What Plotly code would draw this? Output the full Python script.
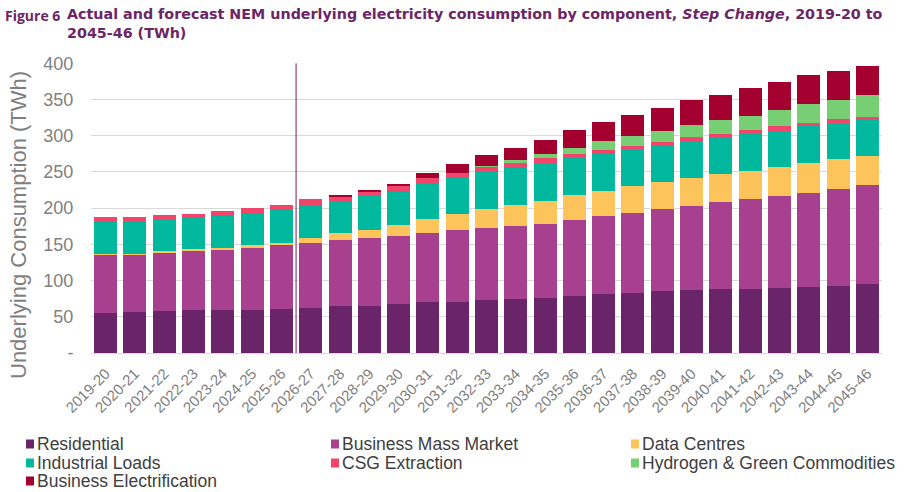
import plotly.graph_objects as go

years = ['2019-20', '2020-21', '2021-22', '2022-23', '2023-24', '2024-25', '2025-26',
         '2026-27', '2027-28', '2028-29', '2029-30', '2030-31', '2031-32', '2032-33',
         '2033-34', '2034-35', '2035-36', '2036-37', '2037-38', '2038-39', '2039-40',
         '2040-41', '2041-42', '2042-43', '2043-44', '2044-45', '2045-46']

residential = [55, 56, 57.5, 59, 59, 60, 61, 62, 64.5, 65.5, 67, 70, 71, 73.5,
               74.5, 76.5, 79, 81.5, 83, 85.5, 86.5, 88, 89, 90, 91.5, 93, 95.5]
business_mass = [81, 80, 81.5, 81.5, 83.5, 85.5, 87.5, 89.5, 91, 93, 95, 96, 98.5, 99,
                 101.5, 102, 105, 107.5, 110, 113.5, 117, 120.5, 123.5, 127.5, 130, 133.5, 136]
data_centres = [1, 1, 2, 3, 3, 3, 4, 8, 10, 12, 15, 18.5, 22, 27,
                29, 32, 34, 34.5, 37, 37, 38.5, 39, 39.5, 39.5, 41, 41, 41]
industrial = [44.5, 44.5, 43, 42.5, 44, 44.5, 45, 43.5, 44, 46, 47, 50, 50, 51.5,
              50.5, 51.5, 51, 51.5, 50, 49.5, 50.5, 50.5, 50.5, 49.5, 50.5, 49.5, 50.5]
csg = [7, 6, 7, 6.5, 7, 7.5, 6.5, 9, 7, 6.5, 7, 7, 7.5, 6,
       7.5, 7, 6.5, 6, 6, 6.5, 6.5, 5, 5.5, 6.5, 4, 6, 3.5]
hydrogen = [0, 0, 0, 0, 0, 0, 0, 0, 0, 0, 0, 0, 0, 1.5,
            3, 5.5, 8, 12, 14, 15, 16, 19, 20, 23, 27, 27, 29.5]
business_elec = [0, 0, 0, 0, 0, 0, 0, 0, 0.5, 2.5, 3, 7.5, 12, 15,
                 17.5, 20, 25, 25.5, 28.5, 31, 34, 34.5, 37.5, 38.5, 39.5, 40, 41]

series = [
    ('Residential', residential, '#69246A'),
    ('Business Mass Market', business_mass, '#A7418F'),
    ('Data Centres', data_centres, '#FDC45C'),
    ('Industrial Loads', industrial, '#00B89D'),
    ('CSG Extraction', csg, '#F1456C'),
    ('Hydrogen & Green Commodities', hydrogen, '#78CF73'),
    ('Business Electrification', business_elec, '#A4002F'),
]

y_ticks = [0, 50, 100, 150, 200, 250, 300, 350, 400]
y_ticktext = ['-', '50', '100', '150', '200', '250', '300', '350', '400']

grey = '#7F7F7F'
purple = '#6C2566'

# plot area in pixels
L, R, T, B = 91, 882, 63, 353
W, H = R - L, B - T


def px(x):
    return (x - L) / W


def py(y):
    return (B - y) / H


fig = go.Figure()
for name, vals, col in series:
    fig.add_trace(go.Bar(x=years, y=vals, name=name, marker_color=col, marker_line_width=0))

fig.update_layout(
    barmode='stack',
    bargap=0.215,
    width=909, height=492,
    margin=dict(l=L, r=909 - R, t=T, b=492 - B, autoexpand=False),
    paper_bgcolor='white', plot_bgcolor='white',
    font=dict(family='Liberation Sans, Arial, sans-serif', color=grey),
    showlegend=False,
    xaxis=dict(tickangle=-45, tickfont=dict(size=15, color=grey), showgrid=False,
               showline=True, linecolor='#D9D9D9', linewidth=1, ticks='outside', ticklen=5,
               tickcolor='rgba(0,0,0,0)', automargin=False),
    yaxis=dict(range=[0, 400.5], tickvals=y_ticks, ticktext=y_ticktext,
               tickfont=dict(size=18, color=grey), gridcolor='#D9D9D9', gridwidth=1,
               zeroline=False, showline=False, ticks='outside', ticklen=13,
               tickcolor='rgba(0,0,0,0)', automargin=False),
)

# axis title as rotated annotation so it can sit exactly where the reference has it
fig.add_annotation(xref='paper', yref='paper', x=px(18), y=py(225), textangle=-90,
                   xanchor='center', yanchor='middle', showarrow=False,
                   text='Underlying Consumption (TWh)',
                   font=dict(family='Liberation Sans, Arial, sans-serif', size=22, color=grey))

# line splitting actual and forecast years
fig.add_shape(type='line', xref='x', yref='y', x0=6.5, x1=6.5, y0=0, y1=400,
              line=dict(color='#7A1D55', width=1))

# legend drawn by hand: 3 columns, small square + label
leg_x = [36, 341, 641]
leg_y = [444, 463, 481]
for i, (name, vals, col) in enumerate(series):
    tx = leg_x[i % 3]
    ty = leg_y[i // 3]
    fig.add_shape(type='rect', xref='paper', yref='paper',
                  x0=px(tx - 10), x1=px(tx - 2), y0=py(ty + 4.5), y1=py(ty - 4.5),
                  fillcolor=col, line_width=0)
    fig.add_annotation(xref='paper', yref='paper', x=px(tx - 1), y=py(ty),
                       xanchor='left', yanchor='middle', showarrow=False, text=name,
                       font=dict(family='Liberation Sans, Arial, sans-serif', size=17.5,
                                 color='#404040'))

# titles
fig.add_annotation(xref='paper', yref='paper', x=px(3), y=py(4),
                   xanchor='left', yanchor='top', showarrow=False, align='left',
                   text='<b>Figure 6</b>',
                   font=dict(family='Open Sans, sans-serif', size=14, color=purple))
fig.add_annotation(xref='paper', yref='paper', x=px(65), y=py(4),
                   xanchor='left', yanchor='top', showarrow=False, align='left',
                   text='<b>Actual and forecast NEM underlying electricity consumption by component, '
                        '<i>Step Change</i>, 2019-20 to<br>2045-46 (TWh)</b>',
                   font=dict(family='DejaVu Sans, sans-serif', size=14.3, color=purple))

# drop the default 8px page margin so the figure sits at the window's corner
fig.write_html('out.html', config={'displayModeBar': False},
               post_script="document.body.style.margin='0';")
